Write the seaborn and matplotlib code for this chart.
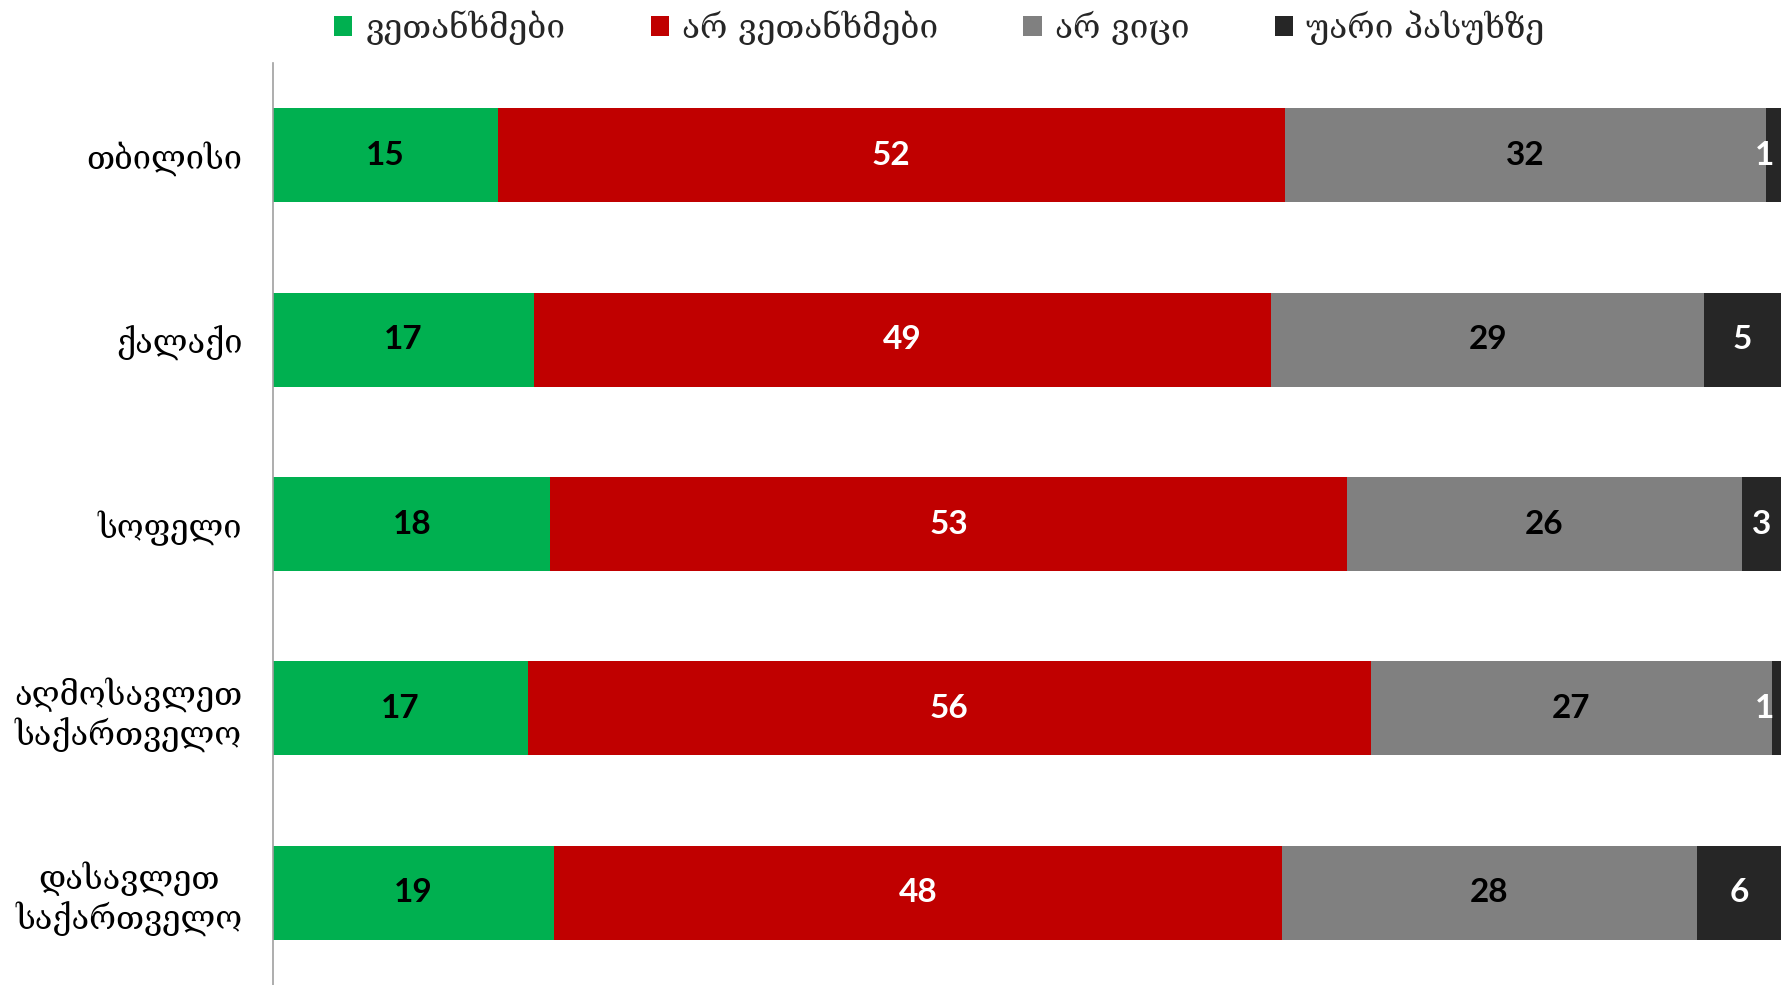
import numpy as np
import pandas as pd
import matplotlib.pyplot as plt
import seaborn as sns
from matplotlib.patches import Patch

sns.set_theme(style="white")
plt.rcParams['font.family'] = ['DejaVu Serif', 'DejaVu Sans']

# data (percent)
regions = ["თბილისი", "ქალაქი", "სოფელი", "აღმოსავლეთ\nსაქართველო", "დასავლეთ\nსაქართველო"]
agree = [14.9, 17.3, 18.4, 16.9, 18.6]
disagree = [52.2, 48.9, 52.8, 55.9, 48.3]
dont_know = [31.9, 28.7, 26.2, 26.6, 27.5]
refused = [1.0, 5.1, 2.6, 0.6, 5.6]

series_names = ["ვეთანხმები", "არ ვეთანხმები", "არ ვიცი", "უარი პასუხზე"]
colors = ["#00B050", "#C00000", "#808080", "#262626"]
text_colors = ["black", "white", "black", "white"]

df = pd.DataFrame({"region": regions, series_names[0]: agree, series_names[1]: disagree,
                   series_names[2]: dont_know, series_names[3]: refused})
cum = df[series_names].cumsum(axis=1)

fig = plt.figure(figsize=(17.89, 9.85), dpi=100)
ax = fig.add_axes([0.1526, 0.0, 0.843, 0.936])

# stacked bars: draw cumulative totals back to front
for i in range(len(series_names) - 1, -1, -1):
    sns.barplot(x=cum[series_names[i]], y=df["region"], color=colors[i], orient="h",
                width=0.51, saturation=1, ax=ax, edgecolor="none")

# value labels (keep tiny end segments' labels inside the bar)
for r in range(len(regions)):
    left = 0
    for i, name in enumerate(series_names):
        v = df[name][r]
        ax.text(min(left + v / 2, 98.9), r, "{:.0f}".format(v), ha="center", va="center",
                color=text_colors[i], fontsize=24, fontweight="bold", family="Lato")
        left += v

ax.set_xlim(0, 100)
ax.set_ylim(4.5, -0.5)
ax.set_xlabel("")
ax.set_ylabel("")
ax.set_xticks([])
for s in ["top", "right", "bottom"]:
    ax.spines[s].set_visible(False)
ax.spines["left"].set_color("#a0a0a0")
ax.spines["left"].set_linewidth(1.2)
ax.tick_params(axis="y", length=0, pad=22)
for lab in ax.get_yticklabels():
    lab.set_fontsize(23.5)
    lab.set_multialignment("center")
    lab.set_color("black")

handles = [Patch(facecolor=c, edgecolor="none") for c in colors]
fig.legend(handles, series_names, loc="upper center", bbox_to_anchor=(0.525, 1.02), ncol=4,
           frameon=False, fontsize=24, handlelength=0.55, handleheight=0.55,
           handletextpad=0.4, columnspacing=2.55)

fig.savefig("out.png", dpi=100)
